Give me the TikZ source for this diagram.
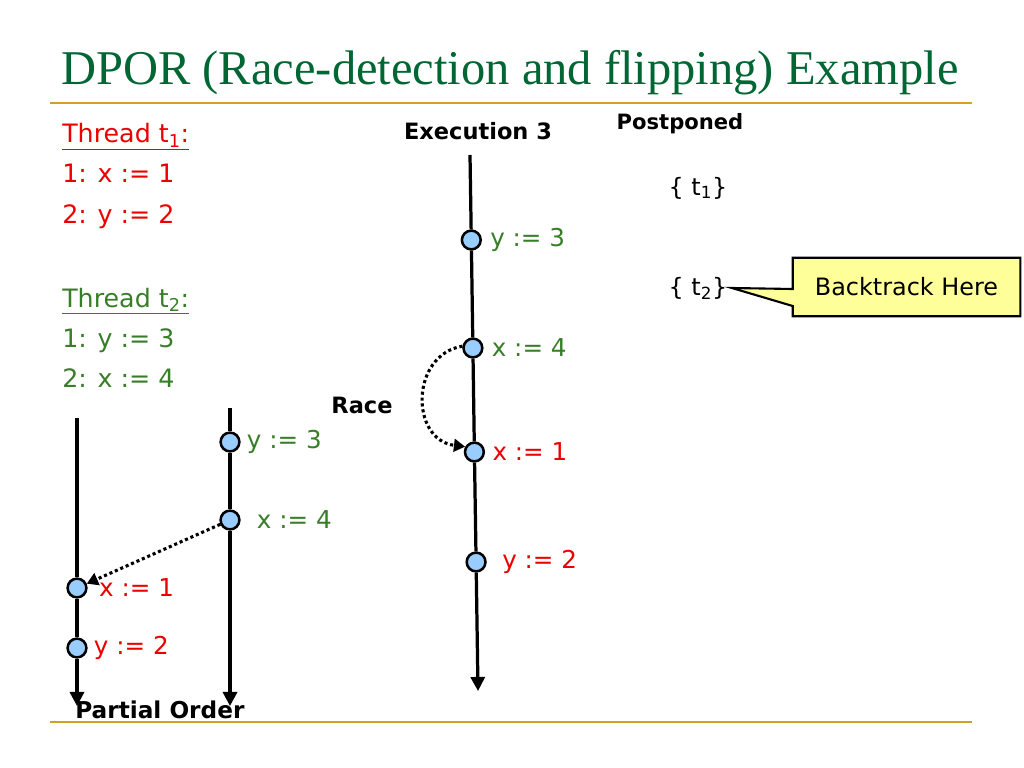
\documentclass[tikz,border=0pt]{standalone}
\usepackage{fontspec}
\setmainfont{DejaVu Sans}
\newfontfamily\titlefont{Liberation Serif}
\usetikzlibrary{positioning, shapes, arrows.meta, backgrounds}

\definecolor{tred}{RGB}{235,0,0}
\definecolor{tgreen}{RGB}{56,125,40}
\definecolor{titlegreen}{RGB}{0,102,51}
\definecolor{gold}{RGB}{210,160,40}
\definecolor{evblue}{RGB}{153,204,255}
\definecolor{noteyellow}{RGB}{255,255,153}

\begin{document}
\begin{tikzpicture}[x=0.025cm, y=-0.025cm,
	ev/.style={circle, draw, line width=1.8pt, fill=evblue, inner sep=0pt, minimum size=0.47cm},
	code/.style={anchor=base west, inner sep=0pt, font=\fontsize{18}{20}\selectfont},
	lab/.style={inner sep=0pt, font=\fontsize{17.5}{20}\selectfont},
	hdr/.style={inner sep=0pt, font=\bfseries\fontsize{15}{17}\selectfont},
	small/.style={inner sep=0pt, font=\fontsize{17}{19}\selectfont},
	tline/.style={line width=2.3pt},
	arr/.style={-{Triangle[width=10pt,length=10pt]}},
	race/.style={dotted, line width=2.2pt, -{Triangle[width=9pt,length=8pt]}}]
	\useasboundingbox (0,0) rectangle (1024,768);
	
	% Cornice
	\draw[gold, line width=1.5pt] (50,103) -- (972,103);
	\draw[gold, line width=1.5pt] (50,722) -- (972,722);
	\node[anchor=base west, inner sep=0pt, text=titlegreen, font=\titlefont\fontsize{34.5}{40}\selectfont] (title) at (61,85) {DPOR (Race-detection and flipping) Example};
	
	% Thread
	\node[code, text=tred] (th1) at (62,143) {\underline{Thread t\textsubscript{1}:}};
	\node[code, text=tred] (th1a) at (62,183) {1: x := 1};
	\node[code, text=tred] (th1b) at (62,223) {2: y := 2};
	\node[code, text=tgreen] (th2) at (62,307) {\underline{Thread t\textsubscript{2}:}};
	\node[code, text=tgreen] (th2a) at (62,347) {1: y := 3};
	\node[code, text=tgreen] (th2b) at (62,387) {2: x := 4};
	
	% Ordine parziale
	\coordinate (p1top) at (77,418);
	\coordinate (p1bot) at (77,706);
	\node[ev] (px1) at (77,588) {};
	\node[ev] (py2) at (77,648) {};
	\coordinate (p2top) at (230,408);
	\coordinate (p2bot) at (230,706);
	\node[ev] (py3) at (230,442) {};
	\node[ev] (px4) at (230,520) {};
	\draw[tline, arr] (p1top) -- (px1) -- (py2) -- (p1bot);
	\draw[tline, arr] (p2top) -- (py3) -- (px4) -- (p2bot);
	\draw[race] (px4) -- (px1);
	\node[lab, text=tred, right=0.28cm of px1] {x := 1};
	\node[lab, text=tred, right=0.15cm of py2] {y := 2};
	\node[lab, text=tgreen, right=0.15cm of py3] {y := 3};
	\node[lab, text=tgreen, right=0.4cm of px4] {x := 4};
	\node[hdr, anchor=base west, font=\bfseries\fontsize{16.5}{18}\selectfont] (po) at (75,718) {Partial Order};
	
	% Esecuzione 3
	\node[hdr, font=\bfseries\fontsize{16}{18}\selectfont] (exec) at (478,131) {Execution 3};
	\coordinate (etop) at (470,155);
	\coordinate (ebot) at (478,691);
	\node[ev] (ey3) at (471.3,240) {};
	\node[ev] (ex4) at (472.9,348) {};
	\node[ev] (ex1) at (474.4,452) {};
	\node[ev] (ey2) at (476.1,562) {};
	\draw[tline, arr] (etop) -- (ey3) -- (ex4) -- (ex1) -- (ey2) -- (ebot);
	\node[lab, text=tgreen, right=0.2cm of ey3] {y := 3};
	\node[lab, text=tgreen, right=0.2cm of ex4] {x := 4};
	\node[lab, text=tred, right=0.18cm of ex1] {x := 1};
	\node[lab, text=tred, right=0.38cm of ey2] {y := 2};
	\draw[race] (ex4.170) .. controls (410,355) and (410,440) .. (ex1.150);
	\node[hdr, font=\bfseries\fontsize{16}{18}\selectfont] (race) at (362,405) {Race};
	
	% Rimandati
	\node[hdr] (post) at (680,124) {Postponed};
	\node[small] (pt1) at (698,188) {\{ t\textsubscript{1}\}};
	\node[small] (pt2) at (698,288) {\{ t\textsubscript{2}\}};
	\node[small, minimum width=5.675cm, minimum height=1.45cm] (note) at (906.5,287) {Backtrack Here};
	\begin{scope}[on background layer]
		\filldraw[fill=noteyellow, line width=1.5pt] (note.north west) -- (note.north east) -- (note.south east) -- (note.south west) -- ([yshift=-0.475cm]note.west) -- ([xshift=3pt]pt2.east) -- ([yshift=-0.05cm]note.west) -- cycle;
	\end{scope}
\end{tikzpicture}
\end{document}
